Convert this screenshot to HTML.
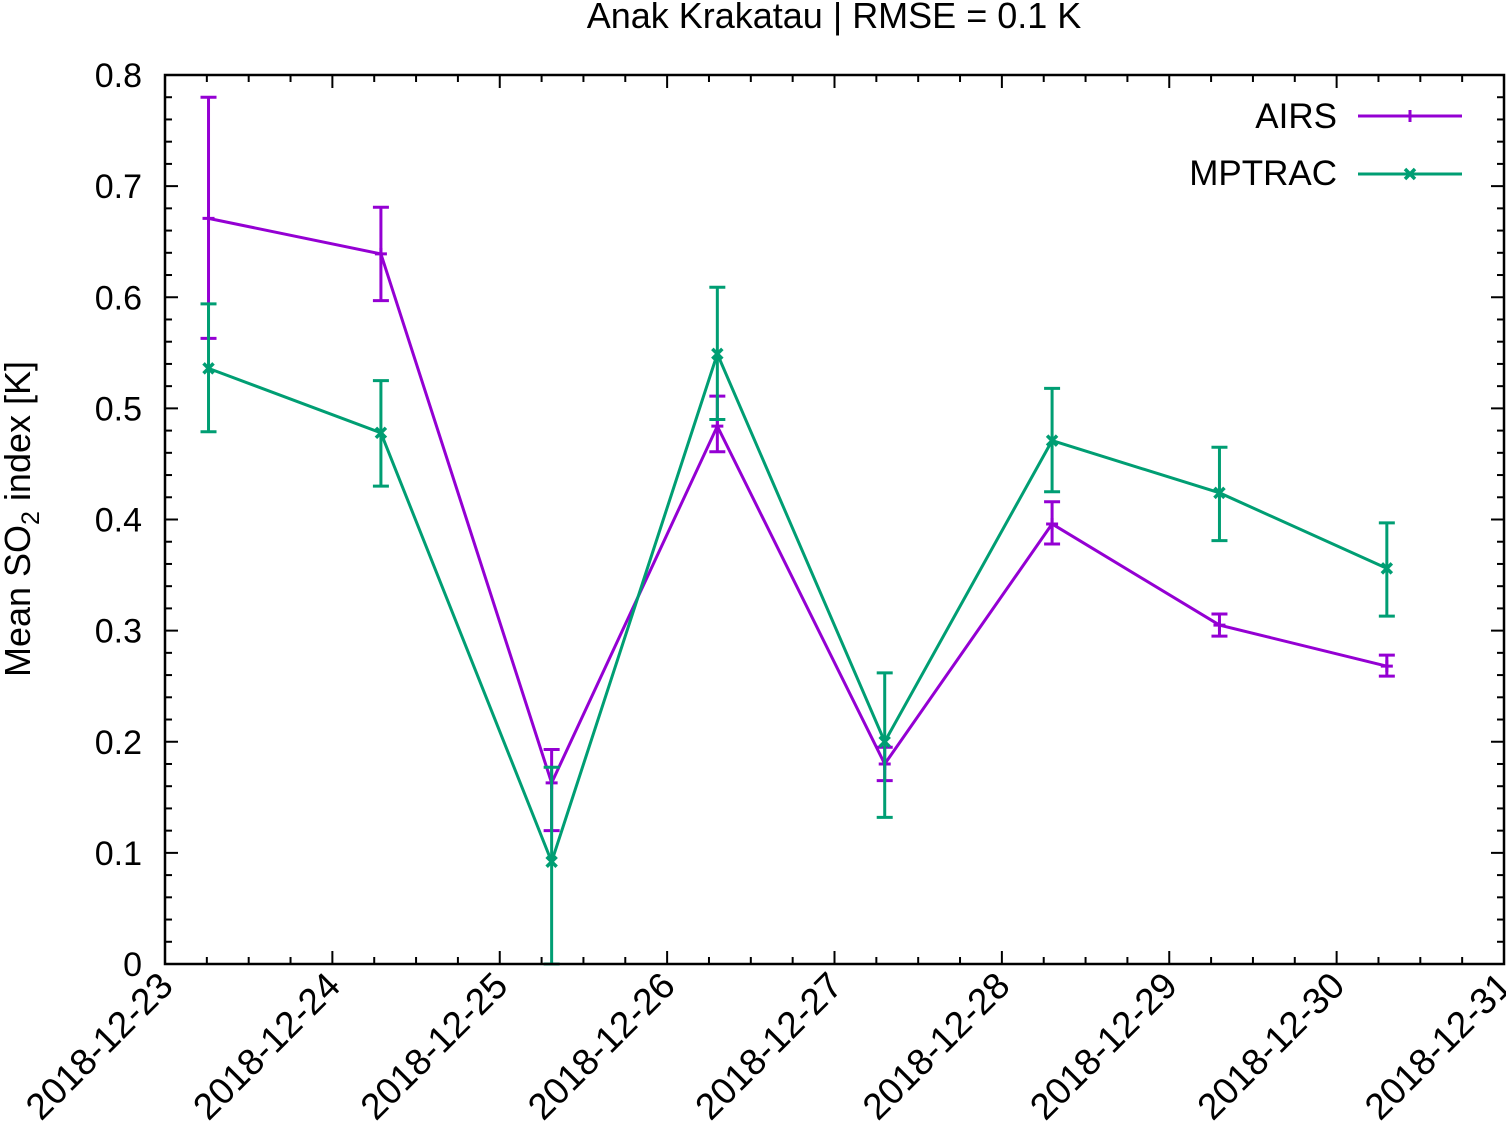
<!DOCTYPE html>
<html><head><meta charset="utf-8"><style>
body{margin:0;background:#fff}
svg{display:block;font-family:"Liberation Sans",Arial,sans-serif}
</style></head><body>
<svg id="chart" width="1506" height="1127" viewBox="0 0 1506 1127"></svg>
<script>
const categories=["2018-12-23","2018-12-24","2018-12-25","2018-12-26","2018-12-27","2018-12-28","2018-12-29","2018-12-30","2018-12-31"];
const pointDays=[0.26,1.29,2.31,3.3,4.3,5.3,6.3,7.3];
const airsValues=[0.671,0.639,0.163,0.484,0.180,0.396,0.305,0.268];
const airsHigh=[0.780,0.681,0.193,0.511,0.195,0.416,0.315,0.278];
const airsLow=[0.563,0.597,0.120,0.461,0.165,0.378,0.295,0.259];
const mpValues=[0.536,0.478,0.092,0.549,0.200,0.471,0.424,0.356];
const mpHigh=[0.594,0.525,0.177,0.609,0.262,0.518,0.465,0.397];
const mpLow=[0.479,0.430,0.000,0.490,0.132,0.425,0.381,0.313];
const yTicks=[0,0.1,0.2,0.3,0.4,0.5,0.6,0.7,0.8];
const yTickLabels=["0","0.1","0.2","0.3","0.4","0.5","0.6","0.7","0.8"];

const L=165,R=1504,T=75,B=964;
const x=d=>L+d*(R-L)/8;
const y=v=>B-v*(B-T)/0.8;
const svg=document.getElementById('chart');
const NS="http://www.w3.org/2000/svg";
function mk(tag,attrs,parent){const e=document.createElementNS(NS,tag);for(const k in attrs)e.setAttribute(k,attrs[k]);(parent||svg).appendChild(e);return e;}

const axisG=mk('g',{});


for(let i=0;i<=40;i++){const v=i*0.02,yy=y(v),len=(i%5==0)?13:7;
 mk('line',{x1:L,x2:L+len,y1:yy,y2:yy,stroke:'#000','stroke-width':2},axisG);
 mk('line',{x1:R,x2:R-len,y1:yy,y2:yy,stroke:'#000','stroke-width':2},axisG);}
for(let i=0;i<=32;i++){const d=i/4,xx=x(d),len=(i%4==0)?13:7;
 mk('line',{x1:xx,x2:xx,y1:B,y2:B-len,stroke:'#000','stroke-width':2},axisG);
 mk('line',{x1:xx,x2:xx,y1:T,y2:T+len,stroke:'#000','stroke-width':2},axisG);}
yTicks.forEach((v,i)=>{const t=mk('text',{x:L-23,y:y(v)+12,'text-anchor':'end','font-size':34},axisG);t.textContent=yTickLabels[i];
 });
categories.forEach((c,i)=>{const xx=x(i)+10,yy=B+24;const t=mk('text',{x:xx,y:yy,'text-anchor':'end','font-size':37,transform:`rotate(-45 ${xx} ${yy})`},axisG);t.textContent=c;
 });

function series(vals,hi,lo,color,name,marker){
 const g=mk('g',{});
 
 
 vals.forEach((v,i)=>{const xx=x(pointDays[i]);
  mk('line',{x1:xx,x2:xx,y1:y(hi[i]),y2:y(lo[i]),stroke:color,'stroke-width':3},g);
  mk('line',{x1:xx-8,x2:xx+8,y1:y(hi[i]),y2:y(hi[i]),stroke:color,'stroke-width':3},g);
  mk('line',{x1:xx-8,x2:xx+8,y1:y(lo[i]),y2:y(lo[i]),stroke:color,'stroke-width':3},g);});
 mk('polyline',{points:vals.map((v,i)=>x(pointDays[i])+','+y(v)).join(' '),fill:'none',stroke:color,'stroke-width':3},g);
 vals.forEach((v,i)=>marker(g,x(pointDays[i]),y(v)));
 return g;}
const plus=(g,xx,yy,c)=>{mk('path',{d:`M${xx-6} ${yy}H${xx+6}M${xx} ${yy-6}V${yy+6}`,stroke:c,'stroke-width':3},g);};
const cross=(g,xx,yy,c)=>{mk('path',{d:`M${xx-5} ${yy-5}L${xx+5} ${yy+5}M${xx-5} ${yy+5}L${xx+5} ${yy-5}`,stroke:c,'stroke-width':3.5},g);};
series(airsValues,airsHigh,airsLow,'#9400d3','airs',(g,a,b)=>plus(g,a,b,'#9400d3'));
series(mpValues,mpHigh,mpLow,'#009e73','mptrac',(g,a,b)=>cross(g,a,b,'#009e73'));

mk('rect',{x:L,y:T,width:R-L,height:B-T,fill:'none',stroke:'#000','stroke-width':2.5});

const lg=mk('g',{});


let t=mk('text',{x:1337,y:128,'text-anchor':'end','font-size':35},lg);t.textContent='AIRS';
mk('line',{x1:1358,x2:1462,y1:116,y2:116,stroke:'#9400d3','stroke-width':3},lg);plus(lg,1410,116,'#9400d3');
t=mk('text',{x:1337,y:185,'text-anchor':'end','font-size':35},lg);t.textContent='MPTRAC';
mk('line',{x1:1358,x2:1462,y1:174,y2:174,stroke:'#009e73','stroke-width':3},lg);cross(lg,1410,174,'#009e73');

t=mk('text',{x:834,y:28,'text-anchor':'middle','font-size':36});t.textContent='Anak Krakatau | RMSE = 0.1 K';

t=mk('text',{x:0,y:0,'text-anchor':'middle','font-size':36,transform:'translate(30 519) rotate(-90)'});
t.innerHTML='Mean SO<tspan font-size="25" dy="9">2</tspan><tspan dy="-9"> index [K]</tspan>';

</script>
</body></html>
